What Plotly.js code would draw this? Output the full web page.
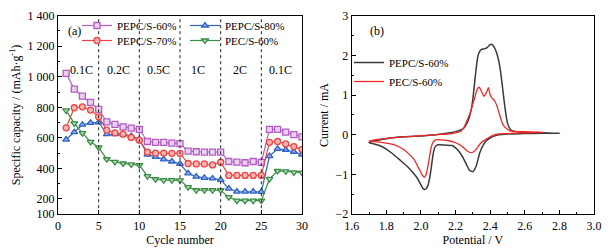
<!DOCTYPE html>
<html>
<head>
<meta charset="utf-8">
<script src="https://cdn.plot.ly/plotly-3.0.1.min.js"></script>
<style>html,body{margin:0;padding:0;background:#fff;}#chart{width:609px;height:251px;}</style>
</head>
<body>
<div id="chart"></div>
<script>
// ---- Panel (a): rate capability ----
var cycles = [1,2,3,4,5,6,7,8,9,10,11,12,13,14,15,16,17,18,19,20,21,22,23,24,25,26,27,28,29,30];
var pepc60 = [1022,919,873,832,786,705,688,672,664,655,576,571,570,566,562,513,509,507,507,507,445,441,437,445,439,656,655,637,621,606];
var pepc70 = [666,797,803,782,738,650,633,624,603,585,506,500,500,499,499,432,429,429,423,441,354,354,354,354,354,571,576,560,543,524];
var pepc80 = [589,637,686,698,702,624,624,624,611,591,491,475,459,445,430,368,346,338,334,325,268,248,248,248,246,481,528,522,509,491];
var pec60  = [780,695,631,574,537,460,443,432,426,421,349,329,323,323,322,277,257,257,257,257,212,189,189,189,189,331,383,381,374,372];
var rateBoundaries = [5,10,15,20,25];
var rateLabels = ["0.1C","0.2C","0.5C","1C","2C","0.1C"];
var rateLabelX = [2.9,7.45,12.3,17.2,22.4,27.4];
var capTickVals = [100,200,400,600,800,1000,1200,1400];
var capTickText = ["100","200","400","600","800","1 000","1 200","1 400"];

// ---- Panel (b): CV curves ----
var potPEPC = [2.80,2.70,2.60,2.50,2.45,2.42,2.40,2.38,2.36,2.34,2.32,2.30,2.28,2.26,2.24,2.22,2.20,2.18,2.14,2.10,2.09,2.08,2.07,2.06,2.05,2.04,2.03,2.02,2.01,2.00,1.98,1.95,1.92,1.88,1.84,1.80,1.76,1.72,1.70,
  1.72,1.76,1.80,1.85,1.90,1.95,2.00,2.05,2.10,2.15,2.20,2.23,2.25,2.27,2.28,2.29,2.30,2.31,2.32,2.33,2.34,2.35,2.37,2.38,2.40,2.41,2.42,2.43,2.44,2.45,2.46,2.47,2.48,2.49,2.50,2.52,2.55,2.60,2.70,2.80];
var curPEPC = [0.04,0.04,0.03,0.02,0.00,-0.04,-0.08,-0.14,-0.26,-0.45,-0.78,-0.93,-0.89,-0.72,-0.55,-0.42,-0.33,-0.27,-0.26,-0.25,-0.27,-0.32,-0.50,-0.82,-1.10,-1.28,-1.36,-1.38,-1.34,-1.26,-1.10,-0.93,-0.79,-0.64,-0.49,-0.36,-0.27,-0.22,-0.20,
  -0.16,-0.13,-0.10,-0.07,-0.05,-0.04,-0.03,-0.01,0.01,0.04,0.08,0.12,0.18,0.33,0.45,0.62,0.90,1.30,1.70,2.00,2.10,2.15,2.17,2.19,2.27,2.28,2.23,2.15,2.03,1.85,1.60,1.25,0.88,0.55,0.30,0.12,0.08,0.06,0.05,0.04];
var potPEC = [2.71,2.60,2.50,2.45,2.42,2.40,2.38,2.37,2.35,2.33,2.32,2.30,2.29,2.28,2.26,2.24,2.22,2.20,2.16,2.12,2.09,2.08,2.07,2.06,2.05,2.04,2.03,2.02,2.01,2.00,1.98,1.96,1.93,1.90,1.85,1.80,1.75,1.70,
  1.72,1.76,1.80,1.85,1.90,1.95,2.00,2.05,2.10,2.15,2.20,2.23,2.25,2.26,2.28,2.29,2.30,2.31,2.32,2.33,2.335,2.34,2.35,2.36,2.365,2.37,2.38,2.39,2.40,2.41,2.42,2.43,2.44,2.45,2.46,2.47,2.48,2.50,2.52,2.60,2.71];
var curPEC = [0.06,0.05,0.03,0.02,-0.01,-0.05,-0.10,-0.13,-0.19,-0.30,-0.36,-0.44,-0.45,-0.44,-0.38,-0.30,-0.24,-0.20,-0.15,-0.13,-0.12,-0.14,-0.19,-0.30,-0.55,-0.80,-1.00,-1.07,-1.03,-0.95,-0.78,-0.62,-0.48,-0.37,-0.26,-0.21,-0.18,-0.16,
  -0.14,-0.11,-0.09,-0.07,-0.05,-0.04,-0.02,-0.01,0.01,0.02,0.05,0.09,0.20,0.30,0.50,0.62,0.78,0.92,1.08,1.18,1.20,1.18,1.09,1.00,0.97,1.00,1.08,1.19,1.00,0.93,0.89,0.82,0.72,0.57,0.43,0.30,0.22,0.14,0.09,0.08,0.06];

var FONT = "Liberation Serif, Times New Roman, serif";

function capTrace(name, y, color, fill, symbol, legend) {
  return {
    x: cycles, y: y, name: name, type: "scatter", mode: "lines+markers",
    xaxis: "x", yaxis: "y", legend: legend,
    line: {color: color, width: 1.2},
    marker: {symbol: symbol, size: 6, color: fill, line: {color: color, width: 1.3}}
  };
}

var traces = [
  capTrace("PEPC/S-60%", pepc60, "#b45cc4", "#ead0f0", "square", "legend"),
  capTrace("PEPC/S-80%", pepc80, "#2f62c4", "#8fb0e6", "triangle-up", "legend"),
  capTrace("PEPC/S-70%", pepc70, "#f04444", "#fbb4b4", "circle", "legend2"),
  capTrace("PEC/S-60%", pec60, "#3a8c46", "#b4dcb4", "triangle-down", "legend2"),
  {x: potPEPC, y: curPEPC, name: "PEPC/S-60%", type: "scatter", mode: "lines",
   xaxis: "x2", yaxis: "y2", legend: "legend3", line: {color: "#3a3a3a", width: 1.5, shape: "spline", smoothing: 0.5}},
  {x: potPEC, y: curPEC, name: "PEC/S-60%", type: "scatter", mode: "lines",
   xaxis: "x2", yaxis: "y2", legend: "legend3", line: {color: "#f02828", width: 1.3, shape: "spline", smoothing: 0.5}}
];

var shapes = rateBoundaries.map(function (b) {
  return {type: "line", xref: "x", yref: "y domain", x0: b, x1: b, y0: 0, y1: 1,
          line: {color: "#222", width: 1, dash: "dot"}};
});

var annotations = rateLabels.map(function (t, i) {
  return {xref: "x", yref: "y", x: rateLabelX[i], y: 1043, text: t, showarrow: false,
          xanchor: "center", yanchor: "middle",
          font: {family: FONT, size: 12, color: "#000"}};
});
annotations.push({xref: "paper", yref: "paper", x: 74/609, y: (251-31)/251, text: "(a)", showarrow: false,
                  xanchor: "center", yanchor: "middle", font: {family: FONT, size: 12, color: "#000"}});
annotations.push({xref: "paper", yref: "paper", x: 377/609, y: (251-31)/251, text: "(b)", showarrow: false,
                  xanchor: "center", yanchor: "middle", font: {family: FONT, size: 12, color: "#000"}});

var axBase = {
  showline: true, mirror: true, linecolor: "#000", linewidth: 1, showgrid: false, zeroline: false,
  ticks: "inside", ticklen: 4, tickwidth: 1, tickcolor: "#000",
  tickfont: {family: FONT, size: 12, color: "#000"}
};
function ax(extra) { return Object.assign({}, axBase, extra); }

var legendFont = {family: FONT, size: 11, color: "#000"};
var layout = {
  width: 609, height: 251,
  margin: {l: 0, r: 0, t: 0, b: 0},
  paper_bgcolor: "#fff", plot_bgcolor: "#fff",
  font: {family: FONT, color: "#000"},
  xaxis: ax({domain: [58/609, 302/609], range: [0, 30], tickvals: [0,5,10,15,20,25,30], anchor: "y",
             title: {text: "Cycle number", font: {family: FONT, size: 12, color: "#000"}, standoff: 0}}),
  yaxis: ax({domain: [0.1466, 0.9375], range: [100, 1400], tickvals: capTickVals, ticktext: capTickText, anchor: "x",
             minor: {tickvals: [300,500,700,900,1100,1300], ticks: "inside", ticklen: 2, tickcolor: "#000"},
             title: {text: "Specific capacity / (mAh·g<sup>-1</sup>)", font: {family: FONT, size: 12, color: "#000"}, standoff: 4}}),
  xaxis2: ax({domain: [351.7/609, 594/609], range: [1.6, 3.0], tickvals: [1.6,1.8,2.0,2.2,2.4,2.6,2.8,3.0], ticktext: ["1.6","1.8","2.0","2.2","2.4","2.6","2.8","3.0"], anchor: "y2",
              minor: {tickvals: [1.7,1.9,2.1,2.3,2.5,2.7,2.9], ticks: "inside", ticklen: 2, tickcolor: "#000"},
              title: {text: "Potential / V", font: {family: FONT, size: 12, color: "#000"}, standoff: 0}}),
  yaxis2: ax({domain: [0.1466, 0.9375], range: [-2, 3], tickvals: [-2,-1,0,1,2,3], anchor: "x2",
              minor: {tickvals: [-1.5,-0.5,0.5,1.5,2.5], ticks: "inside", ticklen: 2, tickcolor: "#000"},
              title: {text: "Current / mA", font: {family: FONT, size: 12, color: "#000"}, standoff: 4}}),
  showlegend: true,
  legend: {orientation: "h", x: 77/609, y: (251-11)/251, xanchor: "left", yanchor: "top", bgcolor: "rgba(0,0,0,0)",
           font: legendFont, entrywidthmode: "pixels", entrywidth: 63, itemwidth: 30},
  legend2: {orientation: "h", x: 77/609, y: (251-26)/251, xanchor: "left", yanchor: "top", bgcolor: "rgba(0,0,0,0)",
            font: legendFont, entrywidthmode: "pixels", entrywidth: 63, itemwidth: 30},
  legend3: {orientation: "v", x: 349/609, y: (251-48)/251, xanchor: "left", yanchor: "top", bgcolor: "rgba(0,0,0,0)",
            font: legendFont, itemwidth: 30},
  shapes: shapes,
  annotations: annotations
};

Plotly.newPlot("chart", traces, layout, {staticPlot: true, displayModeBar: false});
</script>
</body>
</html>
